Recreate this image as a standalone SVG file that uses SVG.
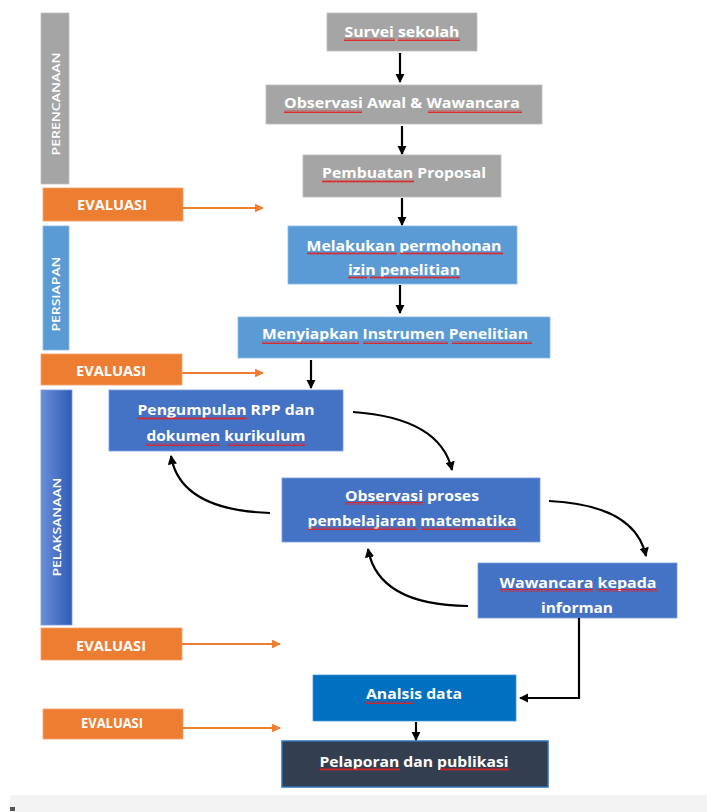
<svg xmlns="http://www.w3.org/2000/svg" width="707" height="812" viewBox="0 0 707 812">
<style>
  text { font-family: "Open Sans", "Liberation Sans", "DejaVu Sans", sans-serif; font-weight: bold; fill: #ffffff; }
  .t { font-size: 15px; text-anchor: middle; }
  .ev { font-size: 14px; text-anchor: middle; }
  .vl { font-size: 11px; text-anchor: middle; font-weight: 600; }
  .gray { fill: #a5a5a5; stroke: #bfbfbf; stroke-width: 0.8; }
  .lblue { fill: #5b9bd5; stroke: #8bbbe6; stroke-width: 0.8; }
  .mblue { fill: #4472c4; stroke: #7a9be0; stroke-width: 0.8; }
  .orange { fill: #ed7d31; stroke: #f3a26f; stroke-width: 0.8; }
  .blk { fill: none; stroke: #000000; stroke-width: 2.2; }
  .orn { fill: none; stroke: #ed7d31; stroke-width: 2.2; }
  .sq { fill: url(#squig); }
</style>
<defs>
  <marker id="ah" viewBox="0 0 10 10" refX="9" refY="5" markerWidth="4.2" markerHeight="4.2" orient="auto" markerUnits="strokeWidth">
    <path d="M0,0 L10,5 L0,10 z" fill="#000000"/>
  </marker>
  <marker id="aho" viewBox="0 0 10 10" refX="9" refY="5" markerWidth="4" markerHeight="4" orient="auto" markerUnits="strokeWidth">
    <path d="M0,0 L10,5 L0,10 z" fill="#ed7d31"/>
  </marker>
  <linearGradient id="pelGrad" x1="0" y1="0" x2="1" y2="0">
    <stop offset="0" stop-color="#6b8fd8"/>
    <stop offset="1" stop-color="#2d5ab6"/>
  </linearGradient>
  <pattern id="squig" width="4" height="3" patternUnits="userSpaceOnUse">
    <path d="M0,2.5 L1,0.5 L2,2.5 L3,0.5 L4,2.5" fill="none" stroke="#e02020" stroke-width="0.9"/>
  </pattern>
</defs>

<rect x="0" y="0" width="707" height="812" fill="#ffffff"/>
<rect x="10" y="795" width="697" height="17" fill="#f3f3f3"/>
<rect x="10" y="807" width="5" height="4" fill="#555555"/>

<!-- phase bars -->
<g id="phase-perencanaan">
  <rect class="gray" x="41" y="13" width="28" height="171"/>
  <text class="vl" transform="translate(60,104) rotate(-90)" textLength="103" lengthAdjust="spacingAndGlyphs">PERENCANAAN</text>
</g>
<g id="eval-1">
  <rect class="orange" x="43" y="188" width="140" height="33"/>
  <text class="ev" x="112" y="210" textLength="70" lengthAdjust="spacingAndGlyphs">EVALUASI</text>
</g>
<g id="phase-persiapan">
  <rect class="lblue" x="43" y="226" width="26" height="124"/>
  <text class="vl" transform="translate(60,294) rotate(-90)" textLength="75" lengthAdjust="spacingAndGlyphs">PERSIAPAN</text>
</g>
<g id="eval-2">
  <rect class="orange" x="41" y="354" width="141" height="31"/>
  <text class="ev" x="111" y="376" textLength="70" lengthAdjust="spacingAndGlyphs">EVALUASI</text>
</g>
<g id="phase-pelaksanaan">
  <rect x="41" y="390" width="31" height="235" fill="url(#pelGrad)" stroke="#7a9be0" stroke-width="0.8"/>
  <text class="vl" transform="translate(61,527) rotate(-90)" textLength="99" lengthAdjust="spacingAndGlyphs">PELAKSANAAN</text>
</g>
<g id="eval-3">
  <rect class="orange" x="41" y="628" width="141" height="32"/>
  <text class="ev" x="111" y="651" textLength="70" lengthAdjust="spacingAndGlyphs">EVALUASI</text>
</g>
<g id="eval-4">
  <rect class="orange" x="43" y="709" width="140" height="30"/>
  <text class="ev" x="112" y="728" font-size="12" textLength="62" lengthAdjust="spacingAndGlyphs">EVALUASI</text>
</g>

<!-- process nodes -->
<g id="survei">
  <rect class="gray" x="327" y="13" width="150" height="38"/>
  <text class="t" x="402" y="37" textLength="115" lengthAdjust="spacingAndGlyphs">Survei sekolah</text>
  <rect class="sq" x="344" y="38" width="51" height="3"/>
  <rect class="sq" x="398" y="38" width="62" height="3"/>
</g>
<g id="observasi-awal">
  <rect class="gray" x="266" y="85" width="276" height="39"/>
  <text class="t" x="402" y="108" textLength="236" lengthAdjust="spacingAndGlyphs">Observasi Awal &amp; Wawancara</text>
  <rect class="sq" x="284" y="110" width="78" height="3"/>
  <rect class="sq" x="428" y="110" width="94" height="3"/>
</g>
<g id="proposal">
  <rect class="gray" x="303" y="155" width="198" height="42"/>
  <text class="t" x="404" y="178" textLength="164" lengthAdjust="spacingAndGlyphs">Pembuatan Proposal</text>
  <rect class="sq" x="322" y="180" width="92" height="3"/>
</g>
<g id="permohonan">
  <rect class="lblue" x="288" y="226" width="229" height="58"/>
  <text class="t" x="404" y="251" textLength="195" lengthAdjust="spacingAndGlyphs">Melakukan permohonan</text>
  <text class="t" x="404" y="275" textLength="112" lengthAdjust="spacingAndGlyphs">izin penelitian</text>
  <rect class="sq" x="307" y="252" width="90" height="3"/>
  <rect class="sq" x="400" y="252" width="103" height="3"/>
  <rect class="sq" x="348" y="276" width="19" height="3"/>
  <rect class="sq" x="370" y="276" width="90" height="3"/>
</g>
<g id="instrumen">
  <rect class="lblue" x="238" y="317" width="312" height="41"/>
  <text class="t" x="395" y="339" textLength="266" lengthAdjust="spacingAndGlyphs">Menyiapkan Instrumen Penelitian</text>
  <rect class="sq" x="262" y="341" width="97" height="3"/>
  <rect class="sq" x="363" y="341" width="85" height="3"/>
  <rect class="sq" x="452" y="341" width="80" height="3"/>
</g>
<g id="pengumpulan">
  <rect class="mblue" x="109" y="390" width="234" height="61"/>
  <text class="t" x="226" y="415" textLength="177" lengthAdjust="spacingAndGlyphs">Pengumpulan RPP dan</text>
  <text class="t" x="226" y="441" textLength="159" lengthAdjust="spacingAndGlyphs">dokumen kurikulum</text>
  <rect class="sq" x="137" y="417" width="110" height="3"/>
  <rect class="sq" x="146" y="443" width="74" height="3"/>
  <rect class="sq" x="227" y="443" width="78" height="3"/>
</g>
<g id="observasi-proses">
  <rect class="mblue" x="282" y="478" width="258" height="64"/>
  <text class="t" x="412" y="501" textLength="134" lengthAdjust="spacingAndGlyphs">Observasi proses</text>
  <text class="t" x="412" y="526" textLength="209" lengthAdjust="spacingAndGlyphs">pembelajaran matematika</text>
  <rect class="sq" x="345" y="502" width="78" height="3"/>
  <rect class="sq" x="308" y="527" width="109" height="3"/>
  <rect class="sq" x="422" y="527" width="96" height="3"/>
</g>
<g id="wawancara">
  <rect class="mblue" x="478" y="563" width="199" height="55"/>
  <text class="t" x="578" y="588" textLength="157" lengthAdjust="spacingAndGlyphs">Wawancara kepada</text>
  <text class="t" x="577" y="613" textLength="72" lengthAdjust="spacingAndGlyphs">informan</text>
  <rect class="sq" x="500" y="589" width="93" height="3"/>
  <rect class="sq" x="597" y="589" width="60" height="3"/>
</g>
<g id="analisis">
  <rect x="313" y="675" width="203" height="46" fill="#0070c0" stroke="#4a97d6" stroke-width="0.8"/>
  <text class="t" x="414" y="699" textLength="96" lengthAdjust="spacingAndGlyphs">Analsis data</text>
  <rect class="sq" x="366" y="701" width="47" height="3"/>
</g>
<g id="pelaporan">
  <rect x="282" y="741" width="266" height="46" fill="#333f50" stroke="#2e75b6" stroke-width="1.5"/>
  <text class="t" x="414" y="767" textLength="189" lengthAdjust="spacingAndGlyphs">Pelaporan dan publikasi</text>
  <rect class="sq" x="320" y="768" width="80" height="3"/>
  <rect class="sq" x="440" y="768" width="69" height="3"/>
</g>

<!-- connectors -->
<g id="connectors">
  <path class="blk" d="M400,53 V82" marker-end="url(#ah)"/>
  <path class="blk" d="M402,126 V154" marker-end="url(#ah)"/>
  <path class="blk" d="M402,198 V225" marker-end="url(#ah)"/>
  <path class="blk" d="M400,285 V313" marker-end="url(#ah)"/>
  <path class="blk" d="M311,360 V388" marker-end="url(#ah)"/>
  <path class="blk" d="M353,412 Q440,418 452,470" marker-end="url(#ah)"/>
  <path class="blk" d="M270,513 Q180,510 171,456" marker-end="url(#ah)"/>
  <path class="blk" d="M549,501 Q635,505 646,556" marker-end="url(#ah)"/>
  <path class="blk" d="M468,606 Q378,605 368,549" marker-end="url(#ah)"/>
  <path class="blk" d="M579,618 V698 H520" marker-end="url(#ah)"/>
  <path class="blk" d="M416,722 V740" marker-end="url(#ah)"/>
  <path class="orn" d="M183,208 H263" marker-end="url(#aho)"/>
  <path class="orn" d="M182,373 H263" marker-end="url(#aho)"/>
  <path class="orn" d="M182,644 H280" marker-end="url(#aho)"/>
  <path class="orn" d="M183,728 H280" marker-end="url(#aho)"/>
</g>
</svg>
